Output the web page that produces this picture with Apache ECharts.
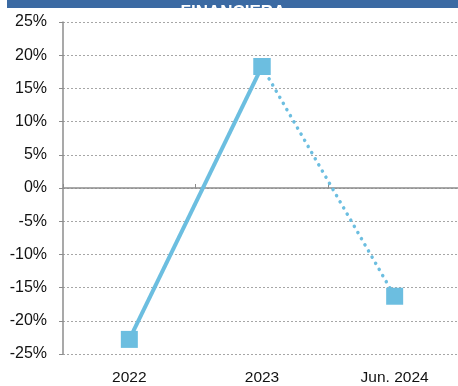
<!DOCTYPE html>
<html>
<head>
<meta charset="utf-8">
<script src="https://cdn.jsdelivr.net/npm/echarts@6/dist/echarts.min.js"></script>
<style>
  html, body { margin: 0; padding: 0; background: #fff; overflow: hidden; }
  #main { width: 461px; height: 386px; }
</style>
</head>
<body>
<div id="main"></div>
<script>
// categorías y valores (variación %)
var categories = ['2022', '2023', 'Jun. 2024'];
var valoresAnual = [-22.8, 18.3, null];
var valoresParcial = [null, 18.3, -16.3];
var yTicks = [-25, -20, -15, -10, -5, 0, 5, 10, 15, 20, 25];

var azul = '#6cbee0';
var fuente = '"Liberation Sans", Arial, sans-serif';
var myChart = echarts.init(document.getElementById('main'));

myChart.setOption({
    animation: false,
    graphic: [
        { type: 'rect', shape: { x: 7, y: 0, width: 454, height: 8 }, style: { fill: '#3b6aa3' } },
        { type: 'text', style: { text: 'FINANCIERA', x: 233, y: 4, fill: '#fff',
            font: 'bold 17px "Liberation Sans", Arial', textAlign: 'center', textVerticalAlign: 'alphabetic' } }
    ],
    grid: { left: 63, right: 0, top: 22, bottom: 31 },
    xAxis: [{
        type: 'category',
        data: categories,
        position: 'bottom',
        axisLine: { show: false, onZero: false },
        axisTick: { show: false },
        axisLabel: { color: '#111', fontSize: 15.5, fontFamily: fuente, margin: 16 }
    }, {
        type: 'category',
        data: categories,
        axisLine: { onZero: true, lineStyle: { color: '#8c8c8c', width: 1.5 } },
        axisTick: { show: true, length: 4, inside: false, lineStyle: { color: '#8c8c8c' } },
        axisLabel: { show: false }
    }],
    yAxis: {
        type: 'value',
        min: yTicks[0],
        max: yTicks[yTicks.length - 1],
        interval: 5,
        axisLine: { show: true, lineStyle: { color: '#8c8c8c', width: 1.5 } },
        axisTick: { show: true, length: 4, lineStyle: { color: '#8c8c8c' } },
        axisLabel: { formatter: '{value}%', color: '#111', fontSize: 16,
            fontFamily: fuente, margin: 16 },
        splitLine: { lineStyle: { color: '#a6a6a6', type: [2, 2], width: 1 } }
    },
    series: [{
        name: 'anual',
        type: 'line',
        data: valoresAnual,
        symbol: 'rect',
        symbolSize: 17,
        itemStyle: { color: azul },
        lineStyle: { color: azul, width: 4 },
        z: 3
    }, {
        name: 'parcial',
        type: 'line',
        data: valoresParcial,
        symbol: 'rect',
        symbolSize: 17,
        itemStyle: { color: azul },
        lineStyle: { color: azul, width: 3.5, type: [0.1, 7], cap: 'round' },
        z: 2
    }]
});
</script>
</body>
</html>
